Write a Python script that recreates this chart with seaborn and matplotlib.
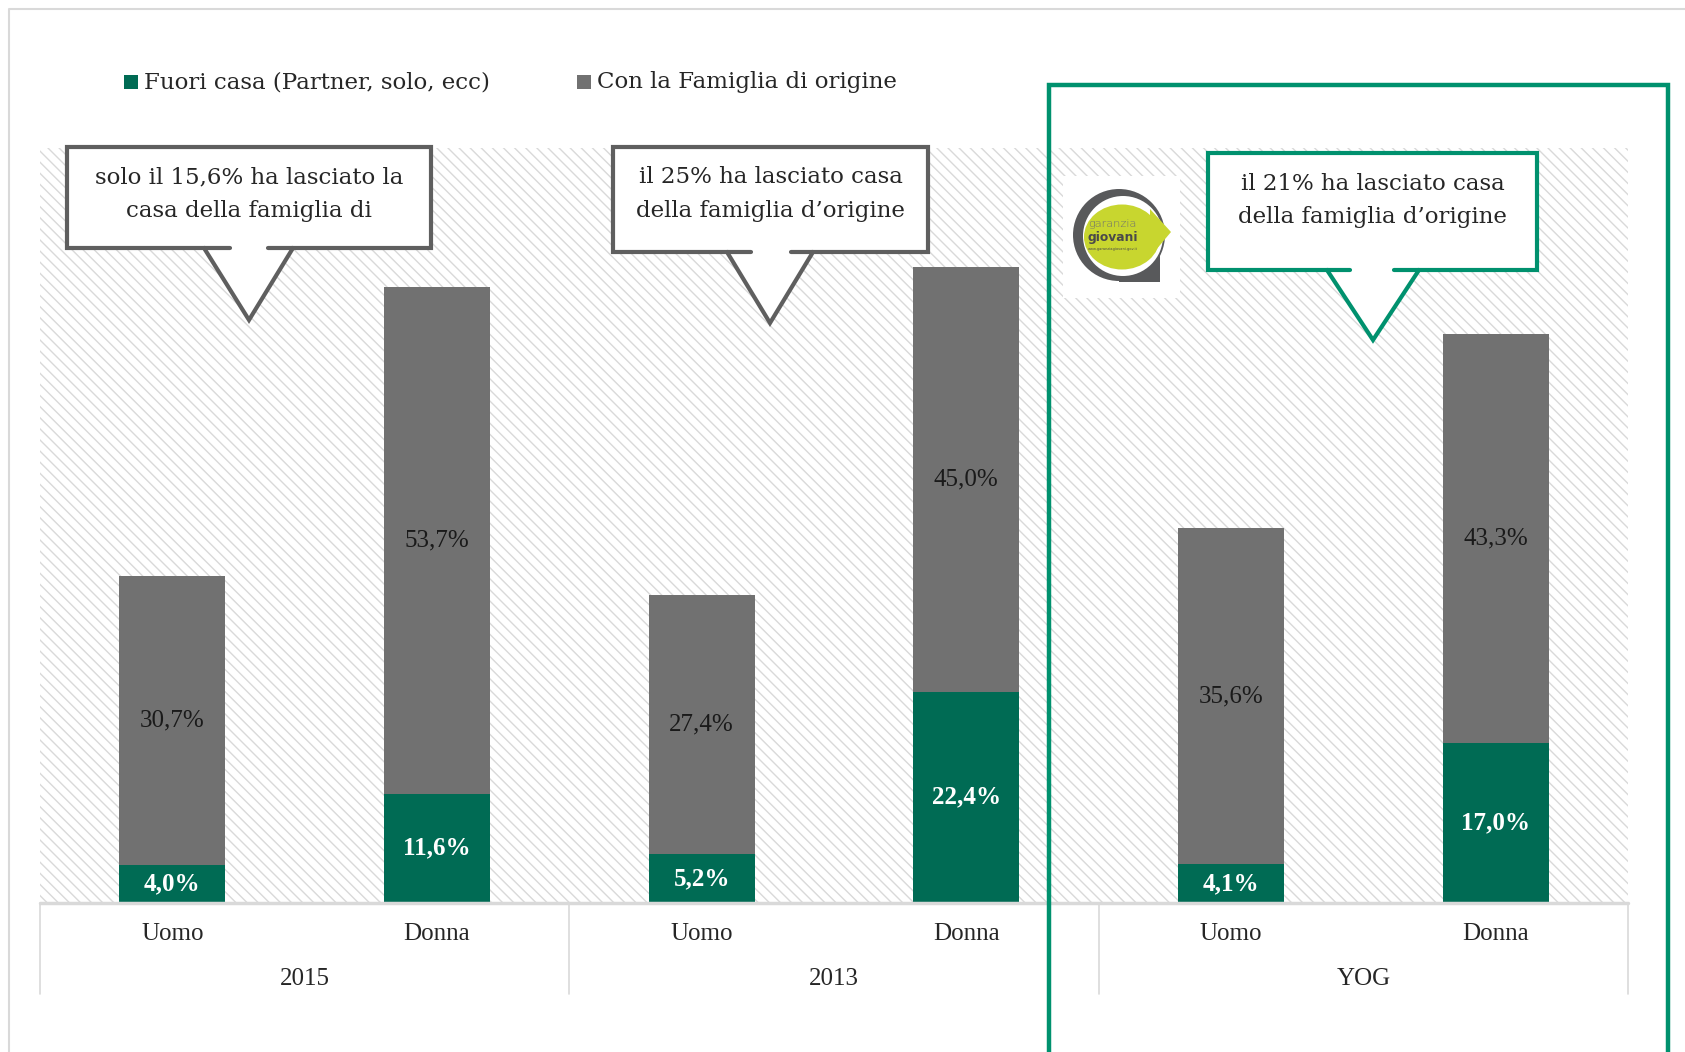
import numpy as np
import pandas as pd
import matplotlib
matplotlib.use('Agg')
import matplotlib.pyplot as plt
import seaborn as sns
from matplotlib.patches import Rectangle, Polygon, Circle, Ellipse
from matplotlib.lines import Line2D
import matplotlib.transforms as mtransforms

# data
gruppi = ['2015', '2013', 'YOG']
sesso = ['Uomo', 'Donna']
fuori_casa = [4.0, 11.6, 5.2, 22.4, 4.1, 17.0]
con_famiglia = [30.7, 53.7, 27.4, 45.0, 35.6, 43.3]
fuori_lab = ['4,0%', '11,6%', '5,2%', '22,4%', '4,1%', '17,0%']
fam_lab = ['30,7%', '53,7%', '27,4%', '45,0%', '35,6%', '43,3%']
legenda = ['Fuori casa (Partner, solo, ecc)', 'Con la Famiglia di origine']
note = [['solo il 15,6% ha lasciato la', 'casa della famiglia di'],
        ['il 25% ha lasciato casa', 'della famiglia d\u2019origine'],
        ['il 21% ha lasciato casa', 'della famiglia d\u2019origine']]

verde = '#006b54'
grigio = '#717171'
verde_box = '#00916e'
grigio_box = '#5f5f5f'
lime = '#c8d62f'

W, H = 1685, 1052

sns.set_style('white')
plt.rcParams['font.family'] = ['Liberation Serif', 'DejaVu Serif']
plt.rcParams['hatch.linewidth'] = 1.0
testo_font = ['DejaVu Serif']

df = pd.DataFrame({
    'cat': [g + ' ' + s for g in gruppi for s in sesso],
    'fuori': fuori_casa,
    'famiglia': con_famiglia,
})
df['totale'] = df['fuori'] + df['famiglia']


def P(x, y):
    # pixel (top-left origin) -> figure fraction
    return (x / W, 1 - y / H)


fig = plt.figure(figsize=(W / 100, H / 100), dpi=100)
ax = fig.add_axes([40 / W, 1 - 903 / H, (1628 - 40) / W, (903 - 148) / H])

# hatched background
ax.add_patch(Rectangle((0, 0), 1, 1, transform=ax.transAxes, facecolor='white',
                       edgecolor='#d9d9d9', linewidth=0, hatch='\\\\\\', zorder=0))

sns.barplot(data=df, x='cat', y='totale', color=grigio, width=0.4, saturation=1,
            errorbar=None, ax=ax, zorder=2, linewidth=0, edgecolor='none')
sns.barplot(data=df, x='cat', y='fuori', color=verde, width=0.4, saturation=1,
            errorbar=None, ax=ax, zorder=3, linewidth=0, edgecolor='none')

for i in range(len(df)):
    f = df['fuori'][i]
    g = df['famiglia'][i]
    ax.text(i, f + g / 2, fam_lab[i], ha='center', va='center', fontsize=18,
            color='#1a1a1a', zorder=5)
    ax.text(i, f / 2, fuori_lab[i], ha='center', va='center', fontsize=18,
            color='white', fontweight='bold', zorder=5)

ax.set_xlim(-0.5, 5.5)
ax.set_ylim(0, 80)
ax.set_xticks([])
ax.set_yticks([])
ax.set_xlabel('')
ax.set_ylabel('')
for s in ax.spines.values():
    s.set_visible(False)

# two-level category axis
tr = mtransforms.blended_transform_factory(ax.transData, ax.transAxes)
ax.plot([-0.5, 5.5], [0, 0], transform=tr, color='#d9d9d9', lw=2.5, clip_on=False, zorder=4)
for xs in [-0.5, 1.5, 3.5, 5.5]:
    ax.plot([xs, xs], [0, -0.1205], transform=tr, color='#d9d9d9', lw=1.2, clip_on=False)
for i, c in enumerate(df['cat']):
    ax.text(i, -0.041, sesso[i % 2], transform=tr, ha='center', va='center', fontsize=18)
for j, g in enumerate(gruppi):
    ax.text(2 * j + 0.5, -0.1007, g, transform=tr, ha='center', va='center', fontsize=18)

# legend
for (x0, lab, col) in [(124, legenda[0], verde), (577, legenda[1], grigio)]:
    fig.add_artist(Rectangle(P(x0, 89), 14 / W, 14 / H, transform=fig.transFigure,
                             facecolor=col, edgecolor='none'))
    fig.text(*P(x0 + 20, 82), lab, ha='left', va='center', fontsize=16.5, family=testo_font)

# outer light border
fig.add_artist(Line2D([9 / W, 9 / W, 1], [0, 1 - 9 / H, 1 - 9 / H], transform=fig.transFigure,
                      color='#d9d9d9', lw=1.5))

# green frame around YOG
fig.add_artist(Line2D([1049 / W, 1049 / W, 1668 / W, 1668 / W],
                      [-0.05, 1 - 85 / H, 1 - 85 / H, -0.05], transform=fig.transFigure,
                      color=verde_box, lw=3.2, zorder=6, solid_joinstyle='miter'))


def callout(x0, x1, y0, y1, bl, br, tip, gl, gr, col, righe, ty):
    pts = [P(x0, y0), P(x1, y0), P(x1, y1), P(br, y1), P(*tip), P(bl, y1), P(x0, y1)]
    fig.add_artist(Polygon(pts, closed=True, transform=fig.transFigure, facecolor='white',
                           edgecolor=col, lw=3, joinstyle='miter', zorder=7))
    for a, b in [(bl, gl), (gr, br)]:
        fig.add_artist(Line2D([a / W, b / W], [1 - y1 / H, 1 - y1 / H], transform=fig.transFigure,
                              color=col, lw=3, solid_capstyle='round', zorder=7))
    cx = (x0 + x1) / 2
    for k, r in enumerate(righe):
        fig.text(*P(cx, ty[k]), r, ha='center', va='center', fontsize=16.5, zorder=8,
                 family=testo_font)


callout(67, 431, 147, 248, 204, 293, (249, 320), 230, 268, grigio_box, note[0], [177, 211])
callout(613, 928, 147, 252, 727, 813, (770, 323), 751, 791, grigio_box, note[1], [177, 211])
callout(1208, 1537, 153, 270, 1327, 1419, (1373, 340), 1350, 1394, verde_box, note[2], [184, 217])

# garanzia giovani logo
lx0, ly1 = 1063, 298
la = fig.add_axes([lx0 / W, 1 - ly1 / H, 117 / W, 122 / H], zorder=9)
la.set_xlim(0, 117)
la.set_ylim(0, 122)
la.set_facecolor('white')
la.axis('off')
la.add_patch(Rectangle((0, 0), 117, 122, facecolor='white', edgecolor='none'))


def L(x, y):
    return (x - lx0, ly1 - y)


la.add_patch(Circle(L(1119, 235), 46, facecolor='#58595b', edgecolor='none'))
la.add_patch(Rectangle(L(1119, 282), 41, 47, facecolor='#58595b', edgecolor='none'))
la.add_patch(Circle(L(1123, 236), 40, facecolor='white', edgecolor='none'))
la.add_patch(Ellipse(L(1122, 237), 76, 65, facecolor=lime, edgecolor='none'))
la.add_patch(Polygon([L(1150, 209), L(1171, 232), L(1150, 257)], closed=True,
                     facecolor=lime, edgecolor='none'))
la.text(*L(1088, 224), 'garanzia', fontsize=8.2, color='#6d6e70', ha='left', va='center',
        family='DejaVu Sans', fontweight='light')
la.text(*L(1088, 238), 'giovani', fontsize=8.8, color='#4a4a4a', ha='left', va='center',
        family='DejaVu Sans', fontweight='bold')
la.text(*L(1088, 249), 'www.garanziagiovani.gov.it', fontsize=2.6, color='#4a4a4a', ha='left',
        va='center', family='DejaVu Sans')

fig.savefig('out.png', dpi=100, facecolor='white')
